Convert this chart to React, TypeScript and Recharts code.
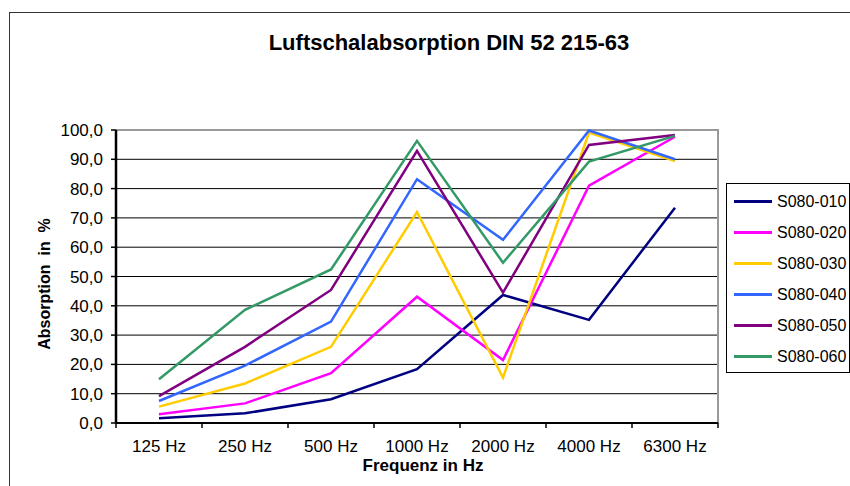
import React from 'react'
import { CartesianGrid, Line, LineChart, ReferenceArea, XAxis, YAxis } from 'recharts'

const frequencies = ['125 Hz', '250 Hz', '500 Hz', '1000 Hz', '2000 Hz', '4000 Hz', '6300 Hz']
const yTicks = [0, 10, 20, 30, 40, 50, 60, 70, 80, 90, 100]

const s010 = [1.6, 3.3, 8.1, 18.4, 43.7, 35.2, 73.5]
const s020 = [3.0, 6.7, 17.0, 43.1, 21.5, 81.0, 97.7]
const s030 = [5.6, 13.5, 26.0, 72.0, 15.5, 99.1, 89.4]
const s040 = [7.5, 19.6, 34.6, 83.2, 62.5, 99.8, 90.0]
const s050 = [9.2, 26.0, 45.4, 92.9, 44.5, 94.9, 98.3]
const s060 = [14.9, 38.6, 52.4, 96.3, 54.7, 89.2, 98.0]

const series = [
    { key: 'S080-010', values: s010, color: '#000080' },
    { key: 'S080-020', values: s020, color: '#FF00FF' },
    { key: 'S080-030', values: s030, color: '#FFCC00' },
    { key: 'S080-040', values: s040, color: '#3366FF' },
    { key: 'S080-050', values: s050, color: '#800080' },
    { key: 'S080-060', values: s060, color: '#339966' },
]

const data = frequencies.map((f, i) => {
    const row: Record<string, string | number> = { freq: f }
    series.forEach(s => { row[s.key] = s.values[i] })
    return row
})

const FONT = '"Liberation Sans", Arial, sans-serif'

// tick marks sit on the category boundaries, labels in the middle
const FreqTick = (props: any) => {
    const { x, y, payload, index, visibleTicksCount } = props
    const half = payload?.offset ?? 43
    const last = index === (visibleTicksCount ?? frequencies.length) - 1
    return (
        <g>
            <line x1={x - half} x2={x - half} y1={y} y2={y + 5} stroke="#000" strokeWidth={1.5} />
            {last && <line x1={x + half} x2={x + half} y1={y} y2={y + 5} stroke="#000" strokeWidth={1.5} />}
            <text x={x} y={y + 29} textAnchor="middle" fontSize={17} fill="#000" fontFamily={FONT}>
                {payload.value}
            </text>
        </g>
    )
}

const LegendBox = () => (
    <div style={{
        position: 'absolute', left: 726, top: 183, width: 124, height: 190, border: '1px solid #000',
        background: '#fff', boxSizing: 'border-box', paddingTop: 2, fontFamily: FONT,
    }}>
        {series.map(s => (
            <div key={s.key} style={{ display: 'flex', alignItems: 'center', height: 31 }}>
                <div style={{ width: 38, height: 3, background: s.color, marginLeft: 7, marginRight: 5 }} />
                <span style={{ fontSize: 16, color: '#000', whiteSpace: 'nowrap' }}>{s.key}</span>
            </div>
        ))}
    </div>
)

const App = () => {
    return (
        <div style={{ position: 'absolute', left: 0, top: 0, width: 850, height: 486, overflow: 'hidden', background: '#fff', fontFamily: FONT }}>
            <div style={{ position: 'absolute', left: 9, top: 12, width: 900, height: 600, border: '1.5px solid #333' }} />
            <div style={{ position: 'absolute', left: 0, width: 898, top: 31, textAlign: 'center', fontWeight: 'bold', fontSize: 22, lineHeight: '24px' }}>
                Luftschalabsorption DIN 52 215-63
            </div>
            <div style={{
                position: 'absolute', left: 45, top: 284, transform: 'translate(-50%, -50%) rotate(-90deg)',
                fontWeight: 'bold', fontSize: 16, whiteSpace: 'pre',
            }}>
                {'Absorption  in  %'}
            </div>
            <div style={{ position: 'absolute', left: 0, width: 846, top: 456, textAlign: 'center', fontWeight: 'bold', fontSize: 17 }}>
                Frequenz in Hz
            </div>
            <div style={{ position: 'absolute', left: 0, top: 0 }}>
                <LineChart width={850} height={486} data={data} margin={{ top: 130, right: 132, bottom: 33, left: 0 }}>
                    <CartesianGrid vertical={false} stroke="#000" strokeWidth={1} />
                    <ReferenceArea x1={frequencies[0]} x2={frequencies[frequencies.length - 1]} y1={0} y2={100} fill="none" stroke="#999" strokeWidth={2} />
                    <XAxis dataKey="freq" scale="band" height={30} axisLine={{ stroke: '#000', strokeWidth: 2 }} tickLine={false}
                        tickSize={0} tickMargin={0} tick={<FreqTick />} interval={0} />
                    <YAxis width={116} domain={[0, 100]} ticks={yTicks} interval={0}
                        tickFormatter={(v: number) => v.toFixed(1).replace('.', ',')}
                        axisLine={{ stroke: '#000', strokeWidth: 2.5 }} tickLine={{ stroke: '#000', strokeWidth: 1.5 }}
                        tickSize={5} tickMargin={8} tick={{ fill: '#000', fontSize: 17, fontFamily: FONT }} />
                    {series.map(s => (
                        <Line key={s.key} type="linear" dataKey={s.key} stroke={s.color} strokeWidth={2.5} dot={false} isAnimationActive={false} />
                    ))}
                </LineChart>
            </div>
            <LegendBox />
        </div>
    )
}

export default App
